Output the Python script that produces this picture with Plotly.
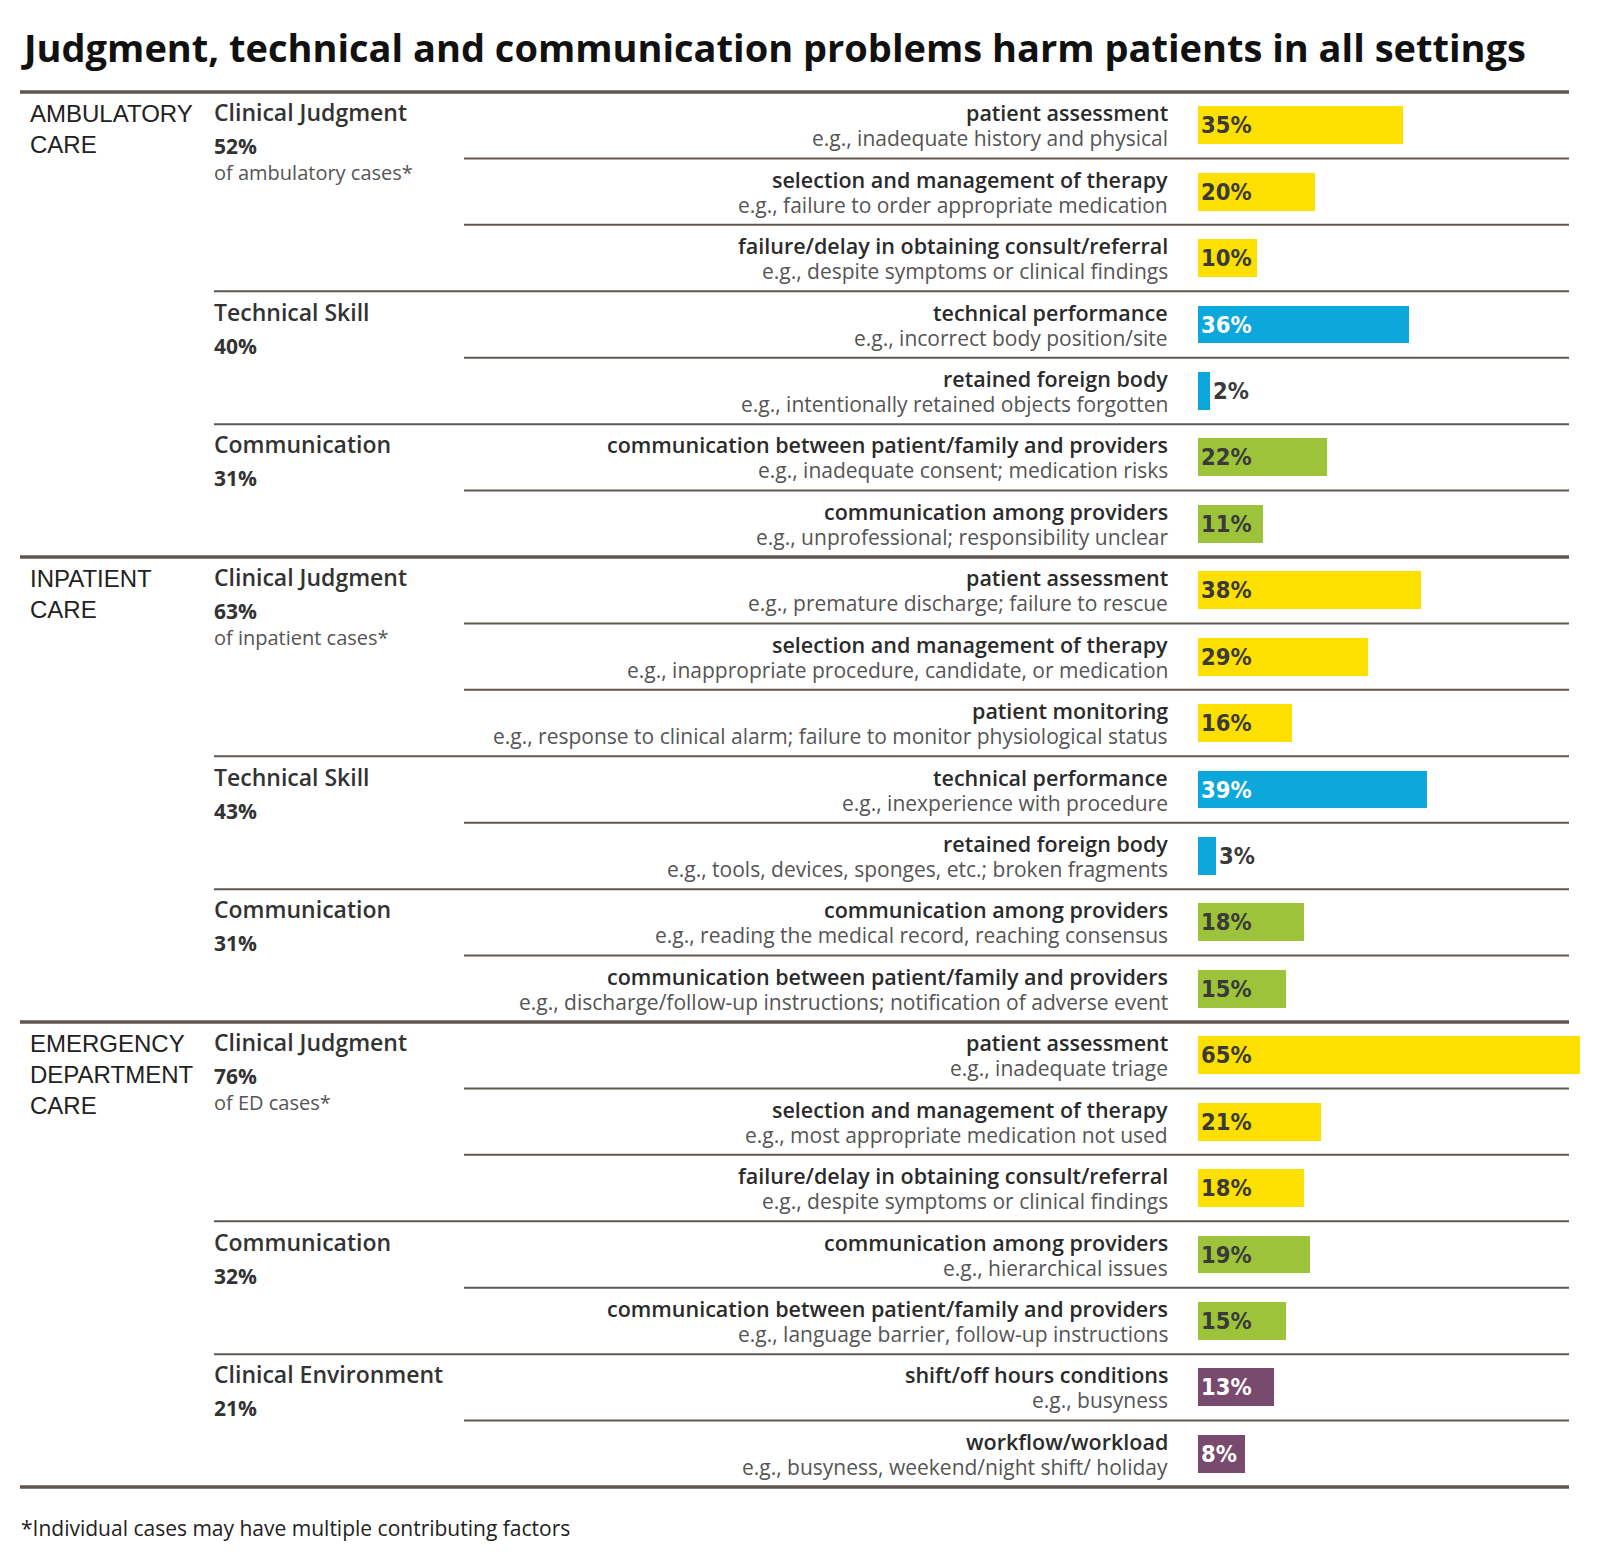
import plotly.graph_objects as go

# --- data ---------------------------------------------------------------
title = "Judgment, technical and communication problems harm patients in all settings"
footnote = "*Individual cases may have multiple contributing factors"

sections = ["AMBULATORY<br>CARE", "INPATIENT<br>CARE", "EMERGENCY<br>DEPARTMENT<br>CARE"]
section_rows = [7, 7, 7]

categories = [
    "Clinical Judgment", "Clinical Judgment", "Clinical Judgment",
    "Technical Skill", "Technical Skill",
    "Communication", "Communication",
    "Clinical Judgment", "Clinical Judgment", "Clinical Judgment",
    "Technical Skill", "Technical Skill",
    "Communication", "Communication",
    "Clinical Judgment", "Clinical Judgment", "Clinical Judgment",
    "Communication", "Communication",
    "Clinical Environment", "Clinical Environment",
]

factors = [
    "patient assessment",
    "selection and management of therapy",
    "failure/delay in obtaining consult/referral",
    "technical performance",
    "retained foreign body",
    "communication between patient/family and providers",
    "communication among providers",
    "patient assessment",
    "selection and management of therapy",
    "patient monitoring",
    "technical performance",
    "retained foreign body",
    "communication among providers",
    "communication between patient/family and providers",
    "patient assessment",
    "selection and management of therapy",
    "failure/delay in obtaining consult/referral",
    "communication among providers",
    "communication between patient/family and providers",
    "shift/off hours conditions",
    "workflow/workload",
]

examples = [
    "e.g., inadequate history and physical",
    "e.g., failure to order appropriate medication",
    "e.g., despite symptoms or clinical findings",
    "e.g., incorrect body position/site",
    "e.g., intentionally retained objects forgotten",
    "e.g., inadequate consent; medication risks",
    "e.g., unprofessional; responsibility unclear",
    "e.g., premature discharge; failure to rescue",
    "e.g., inappropriate procedure, candidate, or medication",
    "e.g., response to clinical alarm; failure to monitor physiological status",
    "e.g., inexperience with procedure",
    "e.g., tools, devices, sponges, etc.; broken fragments",
    "e.g., reading the medical record, reaching consensus",
    "e.g., discharge/follow-up instructions; notification of adverse event",
    "e.g., inadequate triage",
    "e.g., most appropriate medication not used",
    "e.g., despite symptoms or clinical findings",
    "e.g., hierarchical issues",
    "e.g., language barrier, follow-up instructions",
    "e.g., busyness",
    "e.g., busyness, weekend/night shift/ holiday",
]

values = [35, 20, 10, 36, 2, 22, 11,
          38, 29, 16, 39, 3, 18, 15,
          65, 21, 18, 19, 15, 13, 8]

# share of cases per group, in order of appearance
group_pcts = [52, 40, 31, 63, 43, 31, 76, 32, 21]
group_notes = ["of ambulatory cases*", "", "",
               "of inpatient cases*", "", "",
               "of ED cases*", "", ""]

colors = {
    "Clinical Judgment": "#FDE000",
    "Technical Skill": "#0CA8DB",
    "Communication": "#9DC33B",
    "Clinical Environment": "#774A6E",
}
light_text = {"Technical Skill", "Clinical Environment"}

# --- layout helpers ---------------------------------------------------
# the page body has an 8px margin, so the figure is shifted by OFF
OFF = 8
W, H = 1600 - OFF, 1563 - OFF
TOP, BOTTOM = 92, 1487
n = len(values)
rh = (BOTTOM - TOP) / n
LINE = "#5e574f"


def px(x):
    return (x - OFF) / W


def py(y):
    return 1 - (y - OFF) / H


rows = list(range(n))
sec_of_row = []
for s, cnt in enumerate(section_rows):
    sec_of_row += [s] * cnt

bar_colors = [colors[c] for c in categories]
inside = [v >= 5 for v in values]
text_pos = ["inside" if k else "outside" for k in inside]
text_colors = ["#ffffff" if (k and c in light_text) else "#3a3a3a"
               for k, c in zip(inside, categories)]

fig = go.Figure()
fig.add_trace(go.Bar(
    x=values, y=rows, orientation="h", width=0.57,
    marker=dict(color=bar_colors, line=dict(width=0)),
    text=[f"{v}%" for v in values],
    textposition=text_pos, insidetextanchor="start", textangle=0,
    textfont=dict(family="DejaVu Sans Condensed", size=23.5, color=text_colors, weight="bold"),
    cliponaxis=False, hoverinfo="skip", showlegend=False,
))

shapes = []
annotations = []


def hline(y, x0, width):
    shapes.append(dict(type="line", xref="paper", yref="y",
                       x0=px(x0), x1=px(1569), y0=y, y1=y,
                       line=dict(color=LINE, width=width)))


hline(-0.5, 20, 3.5)
for i in range(n - 1):
    if sec_of_row[i] != sec_of_row[i + 1]:
        hline(i + 0.5, 20, 3.5)
    elif categories[i] != categories[i + 1]:
        hline(i + 0.5, 214, 2)
    else:
        hline(i + 0.5, 464, 2)
hline(n - 0.5, 20, 3.5)

# factor names and examples
for i in rows:
    annotations.append(dict(
        x=px(1170), xref="paper", y=i, yref="y", xanchor="right", yanchor="middle",
        yshift=12.5, text=factors[i], showarrow=False,
        font=dict(family="Open Sans", size=21.5, color="#2b2b2b", weight=600)))
    annotations.append(dict(
        x=px(1170), xref="paper", y=i, yref="y", xanchor="right", yanchor="middle",
        yshift=-13, text=examples[i], showarrow=False,
        font=dict(family="Open Sans", size=21, color="#555555")))

# section names
start = 0
for s, cnt in enumerate(section_rows):
    annotations.append(dict(
        x=px(28), xref="paper", y=start - 0.5, yref="y", xanchor="left", yanchor="top",
        yshift=-6, text=sections[s], showarrow=False, align="left",
        font=dict(family="Liberation Sans", size=24, color="#222222")))
    start += cnt

# group names, shares and notes
g = 0
for i in rows:
    if i == 0 or sec_of_row[i] != sec_of_row[i - 1] or categories[i] != categories[i - 1]:
        annotations.append(dict(
            x=px(212), xref="paper", y=i, yref="y", xanchor="left", yanchor="middle",
            yshift=13, text=categories[i], showarrow=False,
            font=dict(family="Open Sans", size=23, color="#333333", weight=600)))
        annotations.append(dict(
            x=px(212), xref="paper", y=i, yref="y", xanchor="left", yanchor="middle",
            yshift=-21, text=f"{group_pcts[g]}%", showarrow=False,
            font=dict(family="Open Sans", size=21, color="#333333", weight="bold")))
        if group_notes[g]:
            annotations.append(dict(
                x=px(212), xref="paper", y=i, yref="y", xanchor="left", yanchor="middle",
                yshift=-47, text=group_notes[g], showarrow=False,
                font=dict(family="Open Sans", size=20, color="#555555")))
        g += 1

annotations.append(dict(
    x=px(19), xref="paper", y=py(47), yref="paper", xanchor="left", yanchor="middle",
    text=title, showarrow=False,
    font=dict(family="Open Sans", size=38, color="#111111", weight="bold")))
annotations.append(dict(
    x=px(19), xref="paper", y=py(1528), yref="paper", xanchor="left", yanchor="middle",
    text=footnote, showarrow=False,
    font=dict(family="Open Sans", size=21, color="#222222")))

fig.update_layout(
    width=W, height=H, autosize=False,
    margin=dict(l=0, r=0, t=0, b=0),
    paper_bgcolor="white", plot_bgcolor="white",
    shapes=shapes, annotations=annotations,
    xaxis=dict(domain=[px(1198), 1], range=[0, (1600 - 1198) / 5.87],
               visible=False, fixedrange=True),
    yaxis=dict(domain=[0, 1], range=[-0.5 + (1563 - TOP) / rh, -0.5 - (TOP - OFF) / rh],
               visible=False, fixedrange=True),
    bargap=0,
)

fig.write_html("out.html")
